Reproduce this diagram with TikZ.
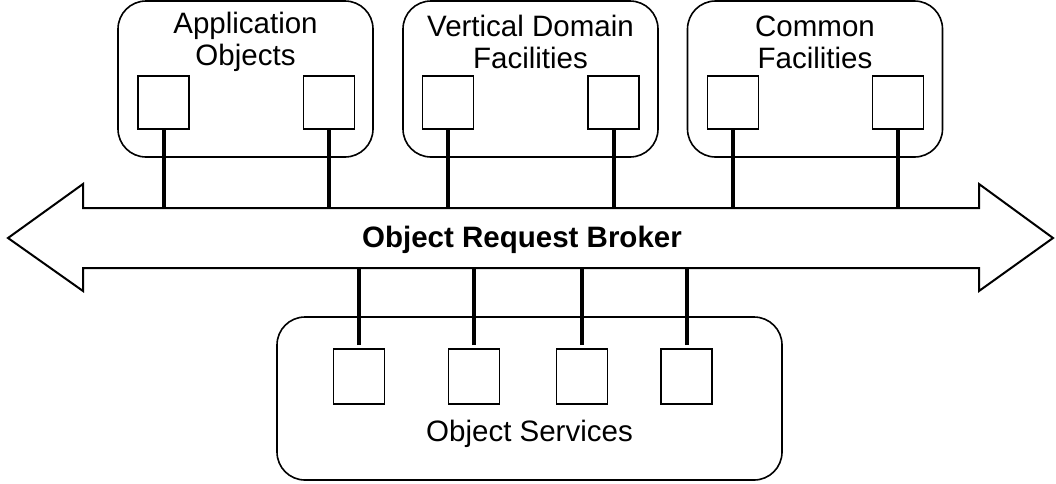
\documentclass[tikz,border=0pt]{standalone}
\usepackage{fontspec}
\setmainfont{Liberation Sans}
\usepackage{tikz}
\usetikzlibrary{positioning, calc}
\tikzstyle{group} = [rectangle, rounded corners=28pt, minimum width=255pt, minimum height=156pt, draw=black, line width=1.6pt]
\tikzstyle{grouptext} = [font=\fontsize{29.5}{32}\selectfont, align=center, inner sep=0pt]
\tikzstyle{port} = [rectangle, minimum width=51pt, minimum height=53pt, inner sep=0pt, draw=black, line width=1.8pt]
\tikzstyle{link} = [line width=4pt]
\tikzstyle{broker} = [line width=2pt, line join=miter]

\begin{document}
\begin{tikzpicture}[x=1pt, y=-1pt]
\useasboundingbox (0,0) rectangle (1056,483);

\node (app) [group] at (245.5,79) {};
\node (vdf) [group] at (530.5,79) {};
\node (cf) [group] at (815,79) {};
\node (osv) [group, minimum width=505pt, minimum height=163pt] at (529.5,398.5) {};

\node (apptext) [grouptext] at (245.5,42) {Application\\Objects};
\node (vdftext) [grouptext] at (530.5,42) {Vertical Domain\\Facilities};
\node (cftext) [grouptext] at (815,42) {Common\\Facilities};
\node (osvtext) [grouptext] at (529.5,434) {Object Services};

\node (app1) [port] at (163.5,102.5) {};
\node (app2) [port] at (329,102.5) {};
\node (vdf1) [port] at (448,102.5) {};
\node (vdf2) [port] at (613.5,102.5) {};
\node (cf1) [port] at (733,102.5) {};
\node (cf2) [port] at (898,102.5) {};
\node (osv1) [port, minimum height=55pt] at (359,376.5) {};
\node (osv2) [port, minimum height=55pt] at (474,376.5) {};
\node (osv3) [port, minimum height=55pt] at (582,376.5) {};
\node (osv4) [port, minimum height=55pt] at (686.5,376.5) {};

% the broker bus
\draw [broker] (8,238) -- (83,184) -- (83,208) coordinate (orbtop) -- (979,208) -- (979,184)
  -- (1053,238) -- (979,291) -- (979,268) -- (83,268) coordinate (orbbot) -- (83,291) -- cycle;
\node (orb) [font=\fontsize{29.5}{32}\selectfont\bfseries] at (522,240) {Object Request Broker};

\draw [link] (app1) -- (app1 |- orbtop);
\draw [link] (app2) -- (app2 |- orbtop);
\draw [link] (vdf1) -- (vdf1 |- orbtop);
\draw [link] (vdf2) -- (vdf2 |- orbtop);
\draw [link] (cf1) -- (cf1 |- orbtop);
\draw [link] (cf2) -- (cf2 |- orbtop);
\draw [link, shorten <=3pt] (osv1) -- (osv1 |- orbbot);
\draw [link, shorten <=3pt] (osv2) -- (osv2 |- orbbot);
\draw [link, shorten <=3pt] (osv3) -- (osv3 |- orbbot);
\draw [link, shorten <=3pt] (osv4) -- (osv4 |- orbbot);
\end{tikzpicture}
\end{document}
